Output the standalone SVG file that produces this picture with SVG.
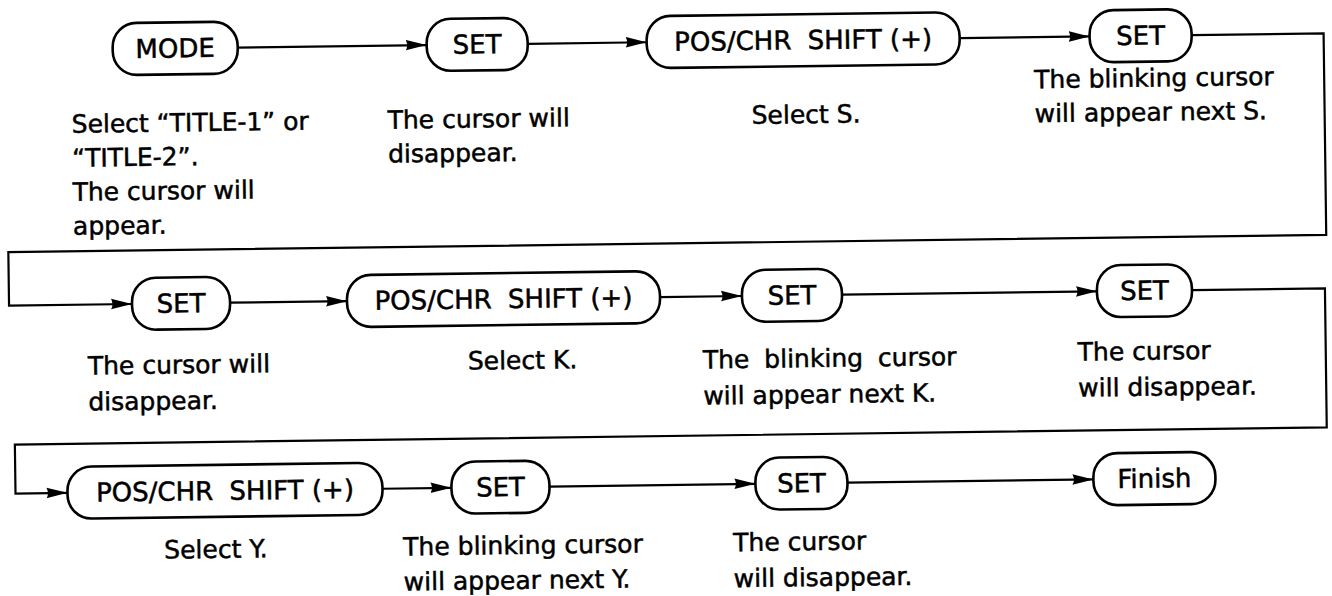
<svg xmlns="http://www.w3.org/2000/svg" width="1332" height="596" viewBox="0 0 1332 596">
<style>
.box{fill:#fff;stroke:#000;stroke-width:2.6}
.lbl{font-family:"DejaVu Sans","Liberation Sans",sans-serif;font-size:26px;text-anchor:middle;fill:#000;stroke:#000;stroke-width:0.5}
.desc{font-family:"DejaVu Sans","Liberation Sans",sans-serif;font-size:25px;fill:#000;stroke:#000;stroke-width:0.5}
.conn{fill:none;stroke:#000;stroke-width:2.2}
.arr{marker-end:url(#ah)}
</style>
<defs>
<marker id="ah" markerUnits="userSpaceOnUse" markerWidth="22" markerHeight="12" refX="21" refY="6" orient="auto">
<path d="M0,0.5 L21,6 L0,11 Q3,6 0,0.5 Z" fill="#000"/>
</marker>
</defs>
<rect width="1332" height="596" fill="#fff"/>
<g transform="rotate(-0.75 666 298)">
<g id="connectors">
<path class="conn arr" d="M241,42 H430"/>
<path class="conn arr" d="M531,42 H650"/>
<path class="conn arr" d="M963,42 H1093"/>
<path class="conn arr" d="M1195,42 H1327 V243.5 H9 V297 H132"/>
<path class="conn arr" d="M230,297 H347"/>
<path class="conn arr" d="M660,297 H742"/>
<path class="conn arr" d="M842,297 H1097"/>
<path class="conn arr" d="M1192,297 H1325 V436 H13 V485 H65"/>
<path class="conn arr" d="M380,485 H449"/>
<path class="conn arr" d="M547,485 H753"/>
<path class="conn arr" d="M845,485 H1091"/>
</g>
<g id="mode">
<rect class="box" x="116" y="16" width="125" height="52" rx="24"/>
<text class="lbl" x="178.5" y="51">MODE</text>
<text class="desc" x="74" y="125">Select “TITLE-1” or</text>
<text class="desc" x="74" y="159">“TITLE-2”.</text>
<text class="desc" x="74" y="193">The cursor will</text>
<text class="desc" x="74" y="227">appear.</text>
</g>
<g id="set1">
<rect class="box" x="430" y="16" width="101" height="52" rx="24"/>
<text class="lbl" x="480.5" y="51">SET</text>
<text class="desc" x="390" y="125">The cursor will</text>
<text class="desc" x="390" y="159">disappear.</text>
</g>
<g id="pos1">
<rect class="box" x="650" y="16" width="313" height="52" rx="24"/>
<text class="lbl" x="806.5" y="51">POS/CHR <tspan dx="8">SHIFT (+)</tspan></text>
<text class="desc" x="754" y="125">Select S.</text>
</g>
<g id="set2">
<rect class="box" x="1093" y="16" width="102" height="52" rx="24"/>
<text class="lbl" x="1144" y="51">SET</text>
<text class="desc" x="1037" y="93">The blinking cursor</text>
<text class="desc" x="1037" y="127">will appear next S.</text>
</g>
<g id="set3">
<rect class="box" x="132" y="271" width="98" height="52" rx="24"/>
<text class="lbl" x="181" y="306">SET</text>
<text class="desc" x="87" y="367">The cursor will</text>
<text class="desc" x="87" y="403">disappear.</text>
</g>
<g id="pos2">
<rect class="box" x="347" y="271" width="313" height="52" rx="24"/>
<text class="lbl" x="503.5" y="306">POS/CHR <tspan dx="8">SHIFT (+)</tspan></text>
<text class="desc" x="467" y="367">Select K.</text>
</g>
<g id="set4">
<rect class="box" x="742" y="271" width="100" height="52" rx="24"/>
<text class="lbl" x="792" y="306">SET</text>
<text class="desc" x="702" y="369" word-spacing="7">The blinking cursor</text>
<text class="desc" x="702" y="405">will appear next K.</text>
</g>
<g id="set5">
<rect class="box" x="1097" y="271" width="95" height="52" rx="24"/>
<text class="lbl" x="1144.5" y="306">SET</text>
<text class="desc" x="1077" y="366">The cursor</text>
<text class="desc" x="1077" y="402">will disappear.</text>
</g>
<g id="pos3">
<rect class="box" x="65" y="459" width="315" height="52" rx="24"/>
<text class="lbl" x="222.5" y="494">POS/CHR <tspan dx="8">SHIFT (+)</tspan></text>
<text class="desc" x="161" y="552">Select Y.</text>
</g>
<g id="set6">
<rect class="box" x="449" y="459" width="98" height="52" rx="24"/>
<text class="lbl" x="498" y="494">SET</text>
<text class="desc" x="400" y="552">The blinking cursor</text>
<text class="desc" x="400" y="587">will appear next Y.</text>
</g>
<g id="set7">
<rect class="box" x="753" y="459" width="92" height="52" rx="24"/>
<text class="lbl" x="799" y="494">SET</text>
<text class="desc" x="730" y="552">The cursor</text>
<text class="desc" x="730" y="588">will disappear.</text>
</g>
<g id="finish">
<rect class="box" x="1091" y="459" width="122" height="52" rx="24"/>
<text class="lbl" x="1152" y="494">Finish</text>
</g>
</g>
</svg>
